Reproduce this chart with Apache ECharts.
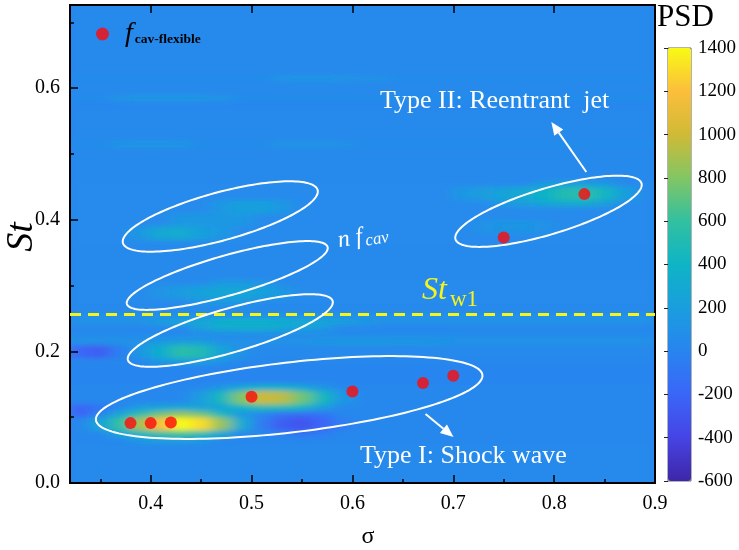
<!DOCTYPE html>
<html><head><meta charset="utf-8">
<script src="https://cdn.jsdelivr.net/npm/echarts@6/dist/echarts.min.js"></script>
<style>
html,body{margin:0;padding:0;background:#fff;}
#wrap{position:relative;width:739px;height:550px;overflow:hidden;}
#heat{position:absolute;left:0;top:0;width:739px;height:550px;background:#2b86ee;clip-path:inset(5px 84px 67px 70px);filter:url(#soft);}
#main{position:absolute;left:0;top:0;width:739px;height:550px;}
</style></head>
<body>
<svg width="0" height="0" style="position:absolute"><filter id="soft" x="-5%" y="-5%" width="110%" height="110%"><feGaussianBlur stdDeviation="7 2.5"/></filter></svg>
<div id="wrap"><div id="heat"></div><div id="main"></div></div>
<script>
// ---------------- data ----------------
const sigmaCols = [0.33,0.35,0.37,0.39,0.41,0.43,0.45,0.47,0.49,0.51,0.53,0.55,0.57,0.59,0.61,0.63,0.65,0.67,0.69,0.71,0.73,0.75,0.77,0.79,0.81,0.83,0.85,0.87,0.89];
const stRows = [0.005,0.015,0.025,0.035,0.045,0.055,0.065,0.075,0.085,0.095,0.105,0.115,0.125,0.135,0.145,0.155,0.165,0.175,0.185,0.195,0.205,0.215,0.225,0.235,0.245,0.255,0.265,0.275,0.285,0.295,0.305,0.315,0.325,0.335,0.345,0.355,0.365,0.375,0.385,0.395,0.405,0.415,0.425,0.435,0.445,0.455,0.465,0.475,0.485,0.495,0.505,0.515,0.525,0.535,0.545,0.555,0.565,0.575,0.585,0.595,0.605,0.615,0.625,0.635,0.645,0.655,0.665,0.675,0.685,0.695,0.705,0.715,0.725];
// background PSD level of each St row
const rowBase = [40,40,40,40,40,40,30,30,30,30,30,30,30,30,30,10,10,10,30,40,40,110,60,20,110,100,40,50,50,50,50,40,40,40,40,40,50,50,50,50,50,50,50,50,50,50,40,40,40,40,40,70,40,40,40,40,40,20,70,40,40,60,40,40,40,40,40,40,40,40,40,40,40];
// local PSD features: [sigma, St, PSD]
const spots = [
 // Type I hot spot (low St)
 [0.35,0.085,250],[0.37,0.085,600],[0.39,0.085,900],[0.41,0.085,1200],[0.43,0.085,1400],[0.45,0.085,1300],[0.47,0.085,850],[0.49,0.085,320],
 [0.35,0.095,250],[0.37,0.095,600],[0.39,0.095,900],[0.41,0.095,1200],[0.43,0.095,1400],[0.45,0.095,1300],[0.47,0.095,850],[0.49,0.095,320],
 [0.35,0.105,0],[0.37,0.105,300],[0.39,0.105,550],[0.41,0.105,750],[0.43,0.105,850],[0.45,0.105,750],[0.47,0.105,450],[0.49,0.105,150],
 [0.37,0.075,250],[0.39,0.075,450],[0.41,0.075,600],[0.43,0.075,650],[0.45,0.075,550],[0.47,0.075,300],
 [0.39,0.115,200],[0.41,0.115,250],[0.43,0.115,300],[0.45,0.115,250],
 [0.39,0.065,150],[0.41,0.065,200],[0.43,0.065,200],[0.45,0.065,150],
 // second hot spot
 [0.45,0.125,200],[0.47,0.125,450],[0.49,0.125,800],[0.51,0.125,1000],[0.53,0.125,950],[0.55,0.125,750],[0.57,0.125,450],[0.59,0.125,150],
 [0.45,0.135,200],[0.47,0.135,450],[0.49,0.135,800],[0.51,0.135,1000],[0.53,0.135,950],[0.55,0.135,750],[0.57,0.135,450],[0.59,0.135,150],
 [0.47,0.115,250],[0.49,0.115,400],[0.51,0.115,500],[0.53,0.115,500],[0.55,0.115,400],[0.57,0.115,200],
 [0.47,0.145,150],[0.49,0.145,300],[0.51,0.145,400],[0.53,0.145,400],[0.55,0.145,300],[0.57,0.145,150],
 // dark region right of hot spot
 [0.51,0.085,-50],[0.53,0.085,-250],[0.55,0.085,-300],[0.57,0.085,-200],[0.59,0.085,-50],
 [0.51,0.095,-50],[0.53,0.095,-250],[0.55,0.095,-300],[0.57,0.095,-200],[0.59,0.095,-50],
 [0.53,0.105,-100],[0.55,0.105,-150],[0.57,0.105,-100],
 [0.53,0.075,-50],[0.55,0.075,-100],[0.57,0.075,-50],
 // dark spots at left edge
 [0.33,0.195,-200],[0.35,0.195,-250],[0.37,0.195,-30],
 [0.33,0.205,-200],[0.35,0.205,-250],[0.37,0.205,-30],
 [0.33,0.105,-220],[0.33,0.115,-220],[0.35,0.115,-100],
 // teal blob near St 0.2
 [0.39,0.195,150],[0.41,0.195,350],[0.43,0.195,550],[0.45,0.195,500],[0.47,0.195,250],[0.49,0.195,100],
 [0.39,0.205,150],[0.41,0.205,350],[0.43,0.205,550],[0.45,0.205,500],[0.47,0.205,250],[0.49,0.205,100],
 [0.41,0.185,150],[0.43,0.185,200],[0.45,0.185,200],[0.47,0.185,100],
 [0.41,0.215,150],[0.43,0.215,200],[0.45,0.215,200],[0.47,0.215,100],
 // band under St_w1
 [0.45,0.235,200],[0.47,0.235,280],[0.49,0.235,300],[0.51,0.235,300],[0.53,0.235,250],[0.55,0.235,200],[0.57,0.235,150],
 [0.41,0.245,200],[0.43,0.245,250],[0.45,0.245,300],[0.47,0.245,380],[0.49,0.245,400],[0.51,0.245,400],[0.53,0.245,350],[0.55,0.245,320],[0.57,0.245,280],[0.59,0.245,220],[0.61,0.245,170],
 // above St_w1
 [0.45,0.275,120],[0.47,0.275,150],[0.49,0.275,150],
 [0.41,0.285,120],[0.43,0.285,180],[0.45,0.285,230],[0.47,0.285,260],[0.49,0.285,260],[0.51,0.285,220],[0.53,0.285,150],
 [0.41,0.295,120],[0.43,0.295,180],[0.45,0.295,230],[0.47,0.295,260],[0.49,0.295,260],[0.51,0.295,220],[0.53,0.295,150],
 [0.47,0.305,150],[0.49,0.305,150],[0.51,0.305,120],
 // inside top ellipse
 [0.39,0.375,150],[0.41,0.375,300],[0.43,0.375,320],[0.45,0.375,220],[0.47,0.375,150],
 [0.39,0.385,150],[0.41,0.385,300],[0.43,0.385,320],[0.45,0.385,220],[0.47,0.385,150],
 [0.43,0.395,150],[0.45,0.395,150],[0.47,0.395,150],[0.49,0.395,150],
 [0.43,0.405,150],[0.45,0.405,150],[0.47,0.405,150],[0.49,0.405,150],
 [0.47,0.415,150],[0.49,0.415,220],[0.51,0.415,220],[0.53,0.415,150],
 [0.47,0.425,150],[0.49,0.425,220],[0.51,0.425,220],[0.53,0.425,150],
 // Type II spot
 [0.71,0.435,150],[0.73,0.435,200],[0.75,0.435,250],[0.77,0.435,300],[0.79,0.435,400],[0.81,0.435,520],[0.83,0.435,550],[0.85,0.435,420],[0.87,0.435,220],
 [0.71,0.445,150],[0.73,0.445,200],[0.75,0.445,250],[0.77,0.445,300],[0.79,0.445,400],[0.81,0.445,520],[0.83,0.445,550],[0.85,0.445,420],[0.87,0.445,220],
 [0.75,0.425,150],[0.77,0.425,200],[0.79,0.425,250],[0.81,0.425,300],[0.83,0.425,300],[0.85,0.425,200],
 [0.79,0.455,150],[0.81,0.455,200],[0.83,0.455,200],[0.85,0.455,150],
 [0.73,0.385,110],[0.75,0.385,130],[0.77,0.385,130],[0.79,0.385,110],
 [0.73,0.395,110],[0.75,0.395,130],[0.77,0.395,130],[0.79,0.395,110],
 // light streak right side
 [0.57,0.215,150],[0.59,0.215,170],[0.61,0.215,170],[0.63,0.215,170],[0.65,0.215,160],[0.67,0.215,150],[0.69,0.215,130],
 // faint upper streaks
 [0.37,0.585,120],[0.39,0.585,140],[0.41,0.585,150],[0.43,0.585,150],[0.45,0.585,140],[0.47,0.585,120],
 [0.53,0.615,120],[0.55,0.615,130],[0.57,0.615,130],[0.59,0.615,120],[0.61,0.615,110],[0.63,0.615,100],
 [0.37,0.515,130],[0.39,0.515,140],[0.41,0.515,140],[0.43,0.515,130],[0.53,0.515,120],[0.55,0.515,120],[0.57,0.515,120],[0.59,0.515,110]
];
// red markers f_cav-flexible
const pointSigma = [0.38,0.40,0.42,0.50,0.60,0.67,0.70,0.75,0.83];
const pointSt    = [0.091,0.091,0.092,0.131,0.139,0.152,0.163,0.373,0.439];
// St_w1 level
const stW1 = 0.256;
// annotation ellipses: tips [sigma1, St1, sigma2, St2]
const ellipses = [
 [0.3457,0.0957,0.7289,0.1641],
 [0.3774,0.1869,0.5804,0.2766],
 [0.3764,0.2720,0.5754,0.3587],
 [0.3725,0.3647,0.5655,0.4453],
 [0.7022,0.3704,0.8866,0.4555]
];
// arrows: [sigma from, St from, sigma to, St to]
const arrows = [
 [0.8319,0.4726,0.7972,0.5486],
 [0.6725,0.1049,0.7002,0.0699]
];
const xMajor = [0.4,0.5,0.6,0.7,0.8,0.9];
const xMinor = [0.35,0.45,0.55,0.65,0.75,0.85];
const yMajor = [0,0.2,0.4,0.6];
const yMinor = [0.1,0.3,0.5,0.7];
const psdColors = ['#3e26a8','#4644e4','#3a66f8','#2884f0','#1a9ede','#0eb4c6','#32c0a0','#82c664','#d0ba36','#fcbe3c','#f8fa14'];

// ---------------- style ----------------
const ellipseHalfWidth = [35,22,20,24,23];
const SERIF = "'Liberation Serif','Times New Roman',serif";

// ---------------- heat layer ----------------
const spotMap = {};
spots.forEach(s => { spotMap[s[0].toFixed(2) + '_' + s[1].toFixed(3)] = s[2]; });
const heatData = [];
sigmaCols.forEach((sx, i) => {
  stRows.forEach((sy, j) => {
    const k = sx.toFixed(2) + '_' + sy.toFixed(3);
    heatData.push([i, j, (k in spotMap) ? spotMap[k] : rowBase[j]]);
  });
});

const heat = echarts.init(document.getElementById('heat'), null, {renderer: 'canvas'});
heat.setOption({
  animation: false,
  backgroundColor: 'transparent',
  grid: {left: 70, top: 483 - 0.73 * 658, width: 585.8, height: 0.73 * 658},
  xAxis: {type: 'category', data: sigmaCols.map(String), show: false},
  yAxis: {type: 'category', data: stRows.map(String), show: false},
  visualMap: {show: false, min: -600, max: 1400, inRange: {color: psdColors}},
  series: [{type: 'heatmap', data: heatData, progressive: 0}]
});

// ---------------- main layer ----------------
const main = echarts.init(document.getElementById('main'), null, {renderer: 'canvas'});
const axisLbl = {fontFamily: SERIF, fontSize: 20, color: '#000'};
main.setOption({
  animation: false,
  backgroundColor: 'transparent',
  grid: [
    {left: 70, top: 5, width: 585, height: 478, show: true, borderColor: '#000', borderWidth: 2, backgroundColor: 'transparent'},
    {left: 668, top: 48, width: 23, height: 433, show: true, borderColor: '#666', borderWidth: 1, backgroundColor: 'transparent'}
  ],
  xAxis: [
    {gridIndex: 0, type: 'value', position: 'bottom', min: 0.32, max: 0.9, splitLine: {show: false}, axisLine: {show: false},
     axisTick: {inside: true, length: 8, lineStyle: {color: '#000', width: 1.5}, customValues: xMajor},
     axisLabel: {customValues: xMajor, margin: 11, formatter: v => v.toFixed(1), ...axisLbl}},
    {gridIndex: 0, type: 'value', position: 'bottom', min: 0.32, max: 0.9, splitLine: {show: false}, axisLine: {show: false},
     axisTick: {inside: true, length: 4, lineStyle: {color: '#000', width: 1.5}, customValues: xMinor}, axisLabel: {show: false}},
    {gridIndex: 0, type: 'value', position: 'top', min: 0.32, max: 0.9, splitLine: {show: false}, axisLine: {show: false},
     axisTick: {inside: true, length: 8, lineStyle: {color: '#000', width: 1.5}, customValues: xMajor.slice(0, 5)}, axisLabel: {show: false}},
    {gridIndex: 1, type: 'value', min: 0, max: 1, show: false}
  ],
  yAxis: [
    {gridIndex: 0, type: 'value', position: 'left', min: 0, max: 0.7264, splitLine: {show: false}, axisLine: {show: false},
     axisTick: {inside: true, length: 8, lineStyle: {color: '#000', width: 1.5}, customValues: yMajor},
     axisLabel: {customValues: yMajor, margin: 10, formatter: v => v.toFixed(1), ...axisLbl}},
    {gridIndex: 0, type: 'value', position: 'left', min: 0, max: 0.7264, splitLine: {show: false}, axisLine: {show: false},
     axisTick: {inside: true, length: 4, lineStyle: {color: '#000', width: 1.5}, customValues: yMinor}, axisLabel: {show: false}},
    {gridIndex: 1, type: 'value', position: 'right', min: -600, max: 1400, interval: 200, splitLine: {show: false}, axisLine: {show: false},
     axisTick: {inside: true, length: 4, lineStyle: {color: '#222', width: 1}},
     axisLabel: {margin: 7, fontFamily: SERIF, fontSize: 19, color: '#000', formatter: v => String(v)}}
  ],
  visualMap: [{type: 'continuous', show: true, seriesIndex: [], min: -600, max: 1400, calculable: false, orient: 'vertical',
    left: 668, top: 48, itemWidth: 23, itemHeight: 433, padding: 0, text: null, hoverLink: false, inRange: {color: psdColors}}],
  legend: {show: true, left: 96, top: 20, padding: 0, itemWidth: 13, itemHeight: 13, icon: 'circle', data: ['fcav'],
    formatter: () => '{f|f}{s|cav-flexible}',
    textStyle: {rich: {
      f: {fontFamily: SERIF, fontStyle: 'italic', fontSize: 28, color: '#000', padding: [0, 2, 0, 11]},
      s: {fontFamily: SERIF, fontSize: 13.5, fontWeight: 'bold', color: '#000', padding: [12, 0, 0, 0]}
    }}},
  graphic: [
    {type: 'text', left: 657, top: 2, style: {text: 'PSD', font: "31px 'Liberation Serif'", fill: '#000'}},
    {type: 'text', x: 22, y: 237, rotation: Math.PI / 2, style: {text: 'St', font: "italic 38px 'Liberation Serif'", fill: '#000', align: 'center', verticalAlign: 'middle'}},
    {type: 'text', x: 368, y: 537, style: {text: 'σ', font: "24px 'Liberation Serif'", fill: '#000', align: 'center', verticalAlign: 'middle'}},
    {type: 'text', x: 380, y: 101, style: {text: 'Type II: Reentrant  jet', font: "26px 'Liberation Serif'", fill: '#fff', align: 'left', verticalAlign: 'middle'}},
    {type: 'text', x: 360, y: 456, style: {text: 'Type I: Shock wave', font: "26px 'Liberation Serif'", fill: '#fff', align: 'left', verticalAlign: 'middle'}},
    {type: 'text', x: 422, y: 291, style: {text: 'St', font: "italic 32px 'Liberation Serif'", fill: '#f4f41e', align: 'left', verticalAlign: 'middle'}},
    {type: 'text', x: 450, y: 300, style: {text: 'w1', font: "23px 'Liberation Serif'", fill: '#f4f41e', align: 'left', verticalAlign: 'middle'}},
    {type: 'group', x: 338, y: 241, rotation: 0.17, children: [
      {type: 'text', x: 0, y: 0, style: {text: 'n f', font: "italic 24px 'Liberation Serif'", fill: '#fff', align: 'left', verticalAlign: 'middle'}},
      {type: 'text', x: 27, y: 5, style: {text: 'cav', font: "italic 17px 'Liberation Serif'", fill: '#fff', align: 'left', verticalAlign: 'middle'}}
    ]}
  ],
  series: [
    {type: 'line', name: 'StW1', xAxisIndex: 0, yAxisIndex: 0, data: [[0.32, stW1], [0.9, stW1]], symbol: 'none',
     lineStyle: {color: '#f4f41e', width: 3, type: [11, 7]}, silent: true, z: 3},
    {type: 'custom', name: 'ellipses', xAxisIndex: 0, yAxisIndex: 0, clip: false, z: 4,
     data: ellipses, encode: {x: [0, 2], y: [1, 3]},
     renderItem: function (params, api) {
       const p1 = api.coord([api.value(0), api.value(1)]);
       const p2 = api.coord([api.value(2), api.value(3)]);
       const cx = (p1[0] + p2[0]) / 2, cy = (p1[1] + p2[1]) / 2;
       const a = Math.hypot(p2[0] - p1[0], p2[1] - p1[1]) / 2;
       const ang = Math.atan2(p2[1] - p1[1], p2[0] - p1[0]);
       const b = ellipseHalfWidth[params.dataIndex];
       const pts = [];
       for (let k = 0; k < 160; k++) {
         const t = k / 160 * 2 * Math.PI;
         const ex = a * Math.cos(t), ey = b * Math.sin(t);
         pts.push([cx + ex * Math.cos(ang) - ey * Math.sin(ang), cy + ex * Math.sin(ang) + ey * Math.cos(ang)]);
       }
       return {type: 'polygon', shape: {points: pts}, style: {fill: 'none', stroke: '#fff', lineWidth: 2}};
     }},
    {type: 'custom', name: 'arrows', xAxisIndex: 0, yAxisIndex: 0, clip: false, z: 4,
     data: arrows, encode: {x: [0, 2], y: [1, 3]},
     renderItem: function (params, api) {
       const p1 = api.coord([api.value(0), api.value(1)]);
       const p2 = api.coord([api.value(2), api.value(3)]);
       const ang = Math.atan2(p2[1] - p1[1], p2[0] - p1[0]);
       const L = 13, W = 5.5;
       const bx = p2[0] - L * Math.cos(ang), by = p2[1] - L * Math.sin(ang);
       return {type: 'group', children: [
         {type: 'line', shape: {x1: p1[0], y1: p1[1], x2: bx, y2: by}, style: {stroke: '#fff', lineWidth: 2}},
         {type: 'polygon', shape: {points: [[p2[0], p2[1]], [bx - W * Math.sin(ang), by + W * Math.cos(ang)], [bx + W * Math.sin(ang), by - W * Math.cos(ang)]]}, style: {fill: '#fff'}}
       ]};
     }},
    {type: 'scatter', name: 'fcav', xAxisIndex: 0, yAxisIndex: 0, symbol: 'circle', symbolSize: 12,
     itemStyle: {color: '#ff0a0a'}, data: pointSigma.map((s, i) => [s, pointSt[i]]), z: 5}
  ]
});
</script>
</body></html>
